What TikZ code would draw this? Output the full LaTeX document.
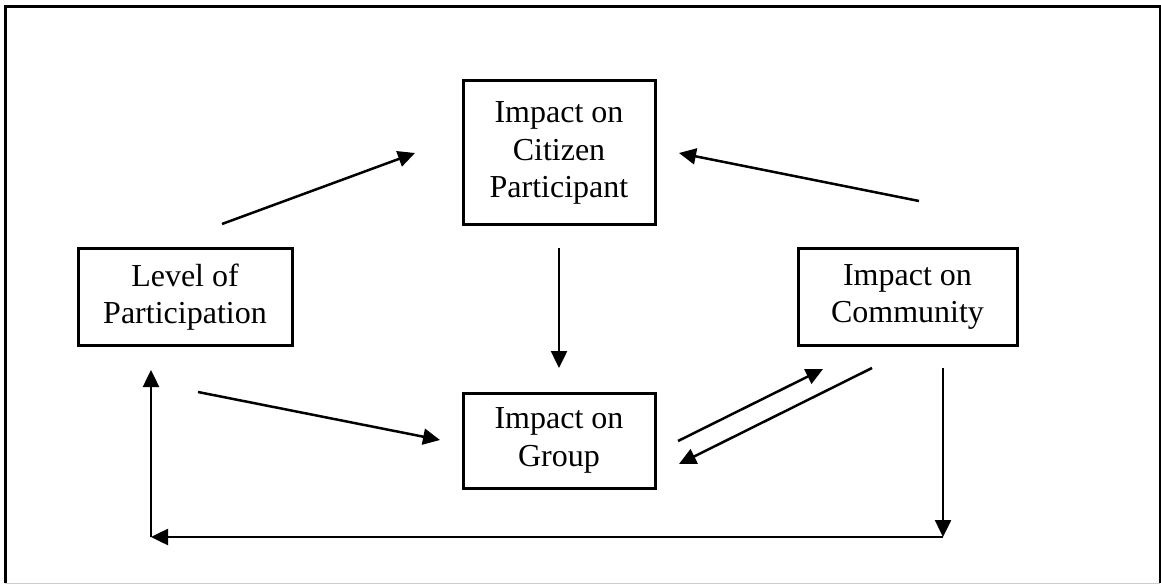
\documentclass[tikz,border=0pt]{standalone}
\usepackage{fontspec}
\setmainfont{Liberation Serif}
\usetikzlibrary{arrows.meta}
\begin{document}
\begin{tikzpicture}[x=1pt,y=-1pt,
  box/.style={draw,line width=3pt,inner sep=0pt,align=center,font=\fontsize{32}{37.5}\selectfont},
  arr/.style={line width=2.5pt,-{Triangle[length=17pt,width=16pt]}}]
\useasboundingbox (0,0) rectangle (1161,585);
\draw[line width=3pt] (5,583) -- (5,7) -- (1160,7) -- (1160,583);
\draw[black!20, line width=1pt] (5,583) -- (1160,583);

\node[box, minimum width=214pt, minimum height=96pt] (lvl) at (185,297) {Level of\\Participation};
\node[box, minimum width=192pt, minimum height=144pt] (cit) at (559,153) {Impact on\\Citizen\\Participant};
\node[box, minimum width=192pt, minimum height=95pt] (grp) at (559,440.5) {Impact on\\Group};
\node[box, minimum width=219pt, minimum height=96pt] (com) at (907.5,297) {Impact on\\Community};

\coordinate (a1s) at (222,224); \coordinate (a1e) at (415,153);
\coordinate (a2s) at (919,201); \coordinate (a2e) at (679,153);
\coordinate (a3s) at (559,248); \coordinate (a3e) at (559,368);
\coordinate (a4s) at (198,392); \coordinate (a4e) at (440,440);
\coordinate (a5s) at (678,441); \coordinate (a5e) at (823,369);
\coordinate (a6s) at (872,368); \coordinate (a6e) at (679,464);
\coordinate (a7s) at (943,368); \coordinate (c1) at (943,537);
\coordinate (c2) at (151,537); \coordinate (a9e) at (151,370);

\draw[arr] (a1s) -- (a1e);
\draw[arr] (a2s) -- (a2e);
\draw[arr] (a3s) -- (a3e);
\draw[arr] (a4s) -- (a4e);
\draw[arr] (a5s) -- (a5e);
\draw[arr] (a6s) -- (a6e);
\draw[arr] (a7s) -- (c1);
\draw[arr] (c1) -- (c2);
\draw[arr] (c2) -- (a9e);
\end{tikzpicture}
\end{document}
